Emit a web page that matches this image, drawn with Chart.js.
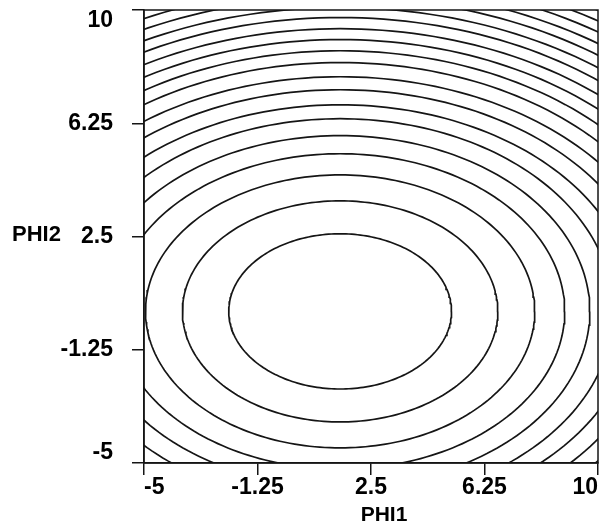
<!DOCTYPE html>
<html>
<head>
<meta charset="utf-8">
<script src="https://cdn.jsdelivr.net/npm/chart.js@4/dist/chart.umd.min.js"></script>
<style>
  html, body { margin: 0; padding: 0; background: #fff; }
</style>
</head>
<body>
<canvas id="chart" width="602" height="529"></canvas>
<script>
// Contour levels (each ring is one level)
const levels = [1, 2, 3, 4, 5, 6, 7, 8, 9, 10, 11, 12, 13, 14, 15, 16, 17, 18, 19, 20];
// centre of the rings (PHI1, PHI2)
const centrePhi1 = [1.48];
const centrePhi2 = [0.02];
// half-width of each ring along PHI1 and PHI2 (outer ones estimated where they leave the frame)
const halfPhi1 = [3.68, 5.21, 6.43, 7.42, 8.25, 9.02, 9.74, 10.42, 11.05, 11.65,
                  12.22, 12.76, 13.28, 13.78, 14.26, 14.73, 15.18, 15.62, 16.05, 16.47];
const halfPhi2 = [2.57, 3.66, 4.52, 5.22, 5.82, 6.38, 6.84, 7.34, 7.77, 8.24,
                  8.63, 9.00, 9.36, 9.73, 10.06, 10.40, 10.72, 11.04, 11.35, 11.65];

const phi1Ticks = [-5, -1.25, 2.5, 6.25, 10];
const phi1Labels = ['-5', '-1.25', '2.5', '6.25', '10'];
const phi2Ticks = [-5, -1.25, 2.5, 6.25, 10];
const phi2Labels = [['-5', ''], '-1.25', '2.5', '6.25', ['', '10']];

const INK = '#151515';
const FONT = '"Liberation Sans", Arial, Helvetica, sans-serif';

// outline of one ring, in data units
function ring(i) {
    const pts = [];
    const steps = 240;
    for (let s = 0; s <= steps; s++) {
        const t = (s / steps) * Math.PI * 2;
        pts.push({
            x: centrePhi1[0] + halfPhi1[i] * Math.cos(t),
            y: centrePhi2[0] + halfPhi2[i] * Math.sin(t)
        });
    }
    return pts;
}

const datasets = levels.map((lvl, i) => ({
    label: 'level ' + lvl,
    data: ring(i),
    showLine: true,
    pointRadius: 0,
    borderColor: INK,
    borderWidth: 1.7,
    fill: false,
    tension: 0
}));

// frame on all four sides plus the two axis names
const framePlugin = {
    id: 'frame',
    afterDraw(chart) {
        const { ctx, chartArea: a } = chart;
        ctx.save();
        ctx.strokeStyle = INK;
        ctx.lineWidth = 1.5;
        ctx.strokeRect(a.left, a.top, a.right - a.left, a.bottom - a.top);
        ctx.fillStyle = '#000';
        ctx.textBaseline = 'middle';
        ctx.textAlign = 'center';
        ctx.font = 'bold 21px ' + FONT;
        ctx.fillText('PHI1', (a.left + a.right) / 2 + 13, a.bottom + 52);
        ctx.textAlign = 'left';
        ctx.font = 'bold 22px ' + FONT;
        ctx.fillText('PHI2', 12, (a.top + a.bottom) / 2 - 2);
        ctx.restore();
    }
};

const tickFont = { family: FONT, size: 23, weight: 'bold', lineHeight: 0.92 };

new Chart(document.getElementById('chart'), {
    type: 'scatter',
    data: { datasets: datasets },
    options: {
        responsive: false,
        animation: false,
        layout: { padding: { top: 10, right: 4, left: 0, bottom: 0 } },
        plugins: {
            legend: { display: false },
            tooltip: { enabled: false }
        },
        scales: {
            x: {
                type: 'linear',
                min: -5,
                max: 10,
                afterBuildTicks: scale => { scale.ticks = phi1Ticks.map(v => ({ value: v })); },
                afterFit: scale => {
                    scale.height = 66;
                    scale.paddingLeft = 0;
                    scale.paddingRight = 0;
                },
                ticks: {
                    callback: (v, i) => phi1Labels[i],
                    align: 'inner',
                    autoSkip: false,
                    maxRotation: 0,
                    padding: 2,
                    color: '#000',
                    font: tickFont
                },
                grid: { display: true, drawOnChartArea: false, drawTicks: true, tickLength: 12, color: INK, lineWidth: 1.5 },
                border: { display: true, color: INK, width: 1.5 }
            },
            y: {
                type: 'linear',
                min: -5,
                max: 10,
                afterBuildTicks: scale => { scale.ticks = phi2Ticks.map(v => ({ value: v })); },
                afterFit: scale => {
                    scale.width = 144;
                    scale.paddingTop = 0;
                    scale.paddingBottom = 0;
                },
                ticks: {
                    callback: (v, i) => phi2Labels[i],
                    autoSkip: false,
                    padding: 19,
                    color: '#000',
                    font: tickFont
                },
                grid: { display: true, drawOnChartArea: false, drawTicks: true, tickLength: 12, color: INK, lineWidth: 1.5 },
                border: { display: true, color: INK, width: 1.5 }
            }
        }
    },
    plugins: [framePlugin]
});
</script>
</body>
</html>
